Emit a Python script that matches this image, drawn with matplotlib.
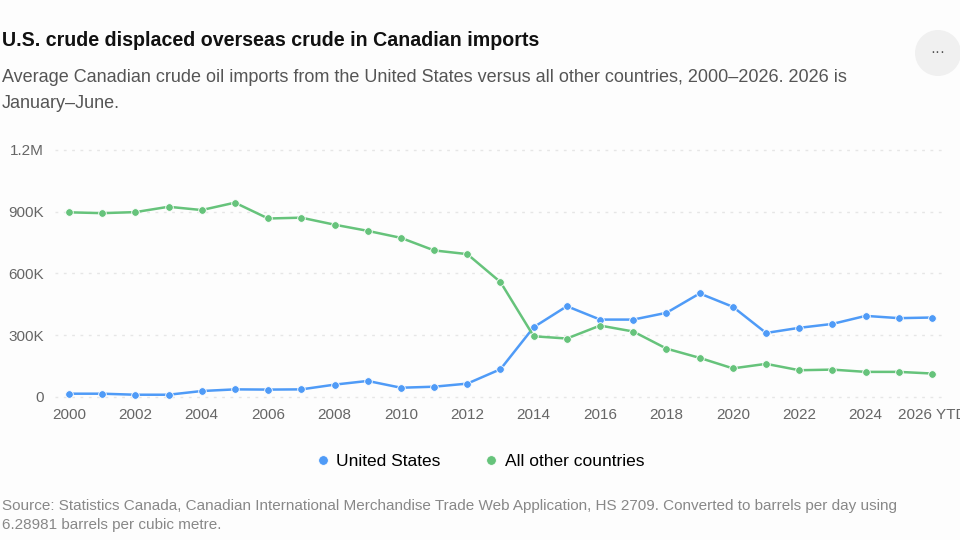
import matplotlib.pyplot as plt
from matplotlib.patches import Ellipse
from matplotlib.ticker import FuncFormatter

plt.rcParams['font.family'] = ['Liberation Sans', 'DejaVu Sans']

# Average daily imports, barrels per day (thousands)
years = list(range(2000, 2027))
us_imports = [16, 16, 11, 11, 29, 37, 36, 37, 60, 78, 45, 50, 65, 135,
              339, 441, 376, 376, 409, 503, 438, 311, 336, 355, 394, 383, 386]
other_imports = [897, 893, 898, 924, 908, 944, 867, 871, 837, 807, 773, 712, 694, 558,
                 295, 284, 347, 318, 235, 190, 139, 161, 130, 133, 122, 122, 114]
tick_years = list(range(2000, 2027, 2))
tick_labels = [str(y) for y in tick_years[:-1]] + ['2026 YTD']
y_ticks = [0, 300, 600, 900, 1200]

blue = '#4f9bf7'
green = '#66c37b'
bg = '#fdfdfd'

fig = plt.figure(figsize=(9.6, 5.4), dpi=100, facecolor=bg)
ax = fig.add_axes([55 / 960, 1 - 400 / 540, 890 / 960, 255 / 540], facecolor=bg)

us = [v * 1000 for v in us_imports]
other = [v * 1000 for v in other_imports]
ax.plot(years, us, color=blue, lw=1.8, marker='o', ms=5.5, mec='white', mew=0.6,
        label='United States', clip_on=False, zorder=3)
ax.plot(years, other, color=green, lw=1.8, marker='o', ms=5.5, mec='white', mew=0.6,
        label='All other countries', clip_on=False, zorder=3)

ax.set_xlim(1999.58, 2026.39)
ax.set_ylim(-14600, 1224000)
ax.set_yticks([v * 1000 for v in y_ticks])


def fmt(v, pos):
    if v == 0:
        return '0'
    if v >= 1e6:
        return f'{v / 1e6:g}M'
    return f'{v / 1e3:g}K'


ax.yaxis.set_major_formatter(FuncFormatter(fmt))
ax.set_xticks(tick_years)
ax.set_xticklabels(tick_labels)
ax.grid(axis='y', color='#e6e6e6', lw=1, ls=(0, (2, 4)))
ax.set_axisbelow(True)
for s in ax.spines.values():
    s.set_visible(False)
ax.tick_params(length=0, labelsize=11, labelcolor='#666666')
ax.tick_params(axis='y', pad=8)
ax.tick_params(axis='x', pad=6)

leg = fig.legend(loc='center', bbox_to_anchor=(481 / 960, 1 - 461 / 540), ncol=2,
                 frameon=False, fontsize=12.5, handlelength=0.6, handletextpad=0.5,
                 columnspacing=2.6)
for h in leg.legend_handles:
    h.set_linestyle('none')
    h.set_markersize(7)

fig.text(2 / 960, 1 - 40 / 540, 'U.S. crude displaced overseas crude in Canadian imports',
         fontsize=14.1, fontweight='bold', color='#111111', va='center')
fig.text(2 / 960, 1 - 78 / 540,
         'Average Canadian crude oil imports from the United States versus all other countries, 2000–2026. 2026 is',
         fontsize=13, color='#555555', va='center')
fig.text(2 / 960, 1 - 103 / 540, 'January–June.', fontsize=13, color='#555555', va='center')
fig.text(2 / 960, 1 - 506 / 540,
         'Source: Statistics Canada, Canadian International Merchandise Trade Web Application, HS 2709. Converted to barrels per day using',
         fontsize=11, color='#888888', va='center')
fig.text(2 / 960, 1 - 525 / 540, '6.28981 barrels per cubic metre.', fontsize=11,
         color='#888888', va='center')

# menu button
fig.patches.append(Ellipse((938 / 960, 1 - 53 / 540), 46 / 960, 46 / 540,
                           transform=fig.transFigure, facecolor='#f0f0f0', edgecolor='none'))
fig.text(938 / 960, 1 - 52 / 540, '···', ha='center', va='center', fontsize=11, color='#555555')

fig.savefig('out.png', dpi=100, facecolor=bg)
